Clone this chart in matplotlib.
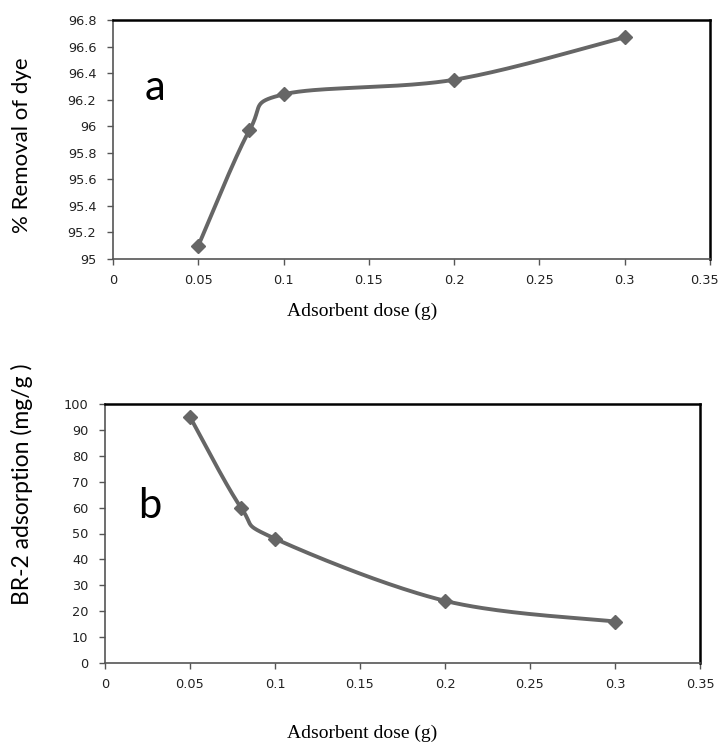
import numpy as np
import matplotlib
matplotlib.use("Agg")
import matplotlib.pyplot as plt
from matplotlib.transforms import ScaledTranslation

dose = [0.05, 0.08, 0.1, 0.2, 0.3]
removal = [95.1, 95.97, 96.24, 96.35, 96.67]
adsorption = [95, 60, 48, 24, 16]

xticks = [0, 0.05, 0.1, 0.15, 0.2, 0.25, 0.3, 0.35]
xticklabels = ["0", "0.05", "0.1", "0.15", "0.2", "0.25", "0.3", "0.35"]
yticks_a = [95, 95.2, 95.4, 95.6, 95.8, 96, 96.2, 96.4, 96.6, 96.8]
yticklabels_a = ["95", "95.2", "95.4", "95.6", "95.8", "96", "96.2", "96.4", "96.6", "96.8"]
yticks_b = [0, 10, 20, 30, 40, 50, 60, 70, 80, 90, 100]
yticklabels_b = [str(v) for v in yticks_b]

LINE = "#666666"


def smooth(ax, xs, ys, xlim, ylim):
    # Excel-style smoothed line (Bezier with Catmull-Rom control points), in axes space
    pos = ax.get_position()
    w = pos.width * 7.22
    h = pos.height * 7.48
    px = (np.asarray(xs) - xlim[0]) / (xlim[1] - xlim[0]) * w
    py = (np.asarray(ys) - ylim[0]) / (ylim[1] - ylim[0]) * h
    P = np.column_stack([px, py])
    P = np.vstack([P[0], P, P[-1]])
    out = []
    t = np.linspace(0, 1, 40)[:, None]
    for i in range(1, len(P) - 2):
        p0, p1, p2, p3 = P[i - 1], P[i], P[i + 1], P[i + 2]
        c1 = p1 + (p2 - p0) / 6
        c2 = p2 - (p3 - p1) / 6
        seg = ((1 - t) ** 3) * p1 + 3 * ((1 - t) ** 2) * t * c1 + 3 * (1 - t) * t ** 2 * c2 + t ** 3 * p2
        out.append(seg)
    S = np.vstack(out)
    sx = S[:, 0] / w * (xlim[1] - xlim[0]) + xlim[0]
    sy = S[:, 1] / h * (ylim[1] - ylim[0]) + ylim[0]
    return sx, sy


def style(ax, yt, ytl):
    ax.set_xticks(xticks)
    ax.set_xticklabels(xticklabels)
    ax.set_yticks(yt)
    ax.set_yticklabels(ytl)
    for s in ["top", "right"]:
        ax.spines[s].set_linewidth(1.8)
        ax.spines[s].set_color("black")
    for s in ["left", "bottom"]:
        ax.spines[s].set_linewidth(1.2)
        ax.spines[s].set_color("#555555")
    ax.tick_params(axis="both", direction="out", length=4, width=1, color="#555555",
                   labelsize=9.3, labelcolor="#222222", pad=7)
    ax.tick_params(axis="y", pad=8)
    for lab in ax.get_xticklabels() + ax.get_yticklabels():
        lab.set_fontfamily("DejaVu Sans")


fig = plt.figure(figsize=(7.22, 7.48), dpi=100)

# Panel a
ax1 = fig.add_axes([113 / 722, 1 - 259 / 748, (710 - 113) / 722, (259 - 20) / 748])
xl = (0, 0.35)
yl = (95, 96.8)
ax1.set_xlim(xl)
ax1.set_ylim(yl)
sx, sy = smooth(ax1, dose, removal, xl, yl)
ax1.plot(sx, sy, color=LINE, lw=2.8, solid_capstyle="round")
ax1.plot(dose, removal, "D", color=LINE, ms=7)
style(ax1, yticks_a, yticklabels_a)
last = ax1.get_xticklabels()[-1]
last.set_transform(last.get_transform() + ScaledTranslation(-6 / 100, 0, fig.dpi_scale_trans))
ax1.text(0.07, 0.715, "a", transform=ax1.transAxes, fontsize=30, family="Lato", ha="center", va="center")
fig.text(22 / 722, 1 - 145 / 748, "% Removal of dye", rotation=90, fontsize=16, family="Lato",
         ha="center", va="center")
fig.text(362 / 722, 1 - 311 / 748, "Adsorbent dose (g)", fontsize=14, family="Liberation Serif",
         ha="center", va="center")

# Panel b
ax2 = fig.add_axes([105 / 722, 1 - 663 / 748, (700 - 105) / 722, (663 - 404) / 748])
yl2 = (0, 100)
ax2.set_xlim(xl)
ax2.set_ylim(yl2)
sx, sy = smooth(ax2, dose, adsorption, xl, yl2)
ax2.plot(sx, sy, color=LINE, lw=2.8, solid_capstyle="round")
ax2.plot(dose, adsorption, "D", color=LINE, ms=7)
style(ax2, yticks_b, yticklabels_b)
ax2.text(0.075, 0.605, "b", transform=ax2.transAxes, fontsize=30, family="Lato", ha="center", va="center")
fig.text(22 / 722, 1 - 484 / 748, "BR-2 adsorption (mg/g )", rotation=90, fontsize=16.5, family="Lato",
         ha="center", va="center")
fig.text(362 / 722, 1 - 733 / 748, "Adsorbent dose (g)", fontsize=14, family="Liberation Serif",
         ha="center", va="center")

fig.savefig("out.png", dpi=100)
